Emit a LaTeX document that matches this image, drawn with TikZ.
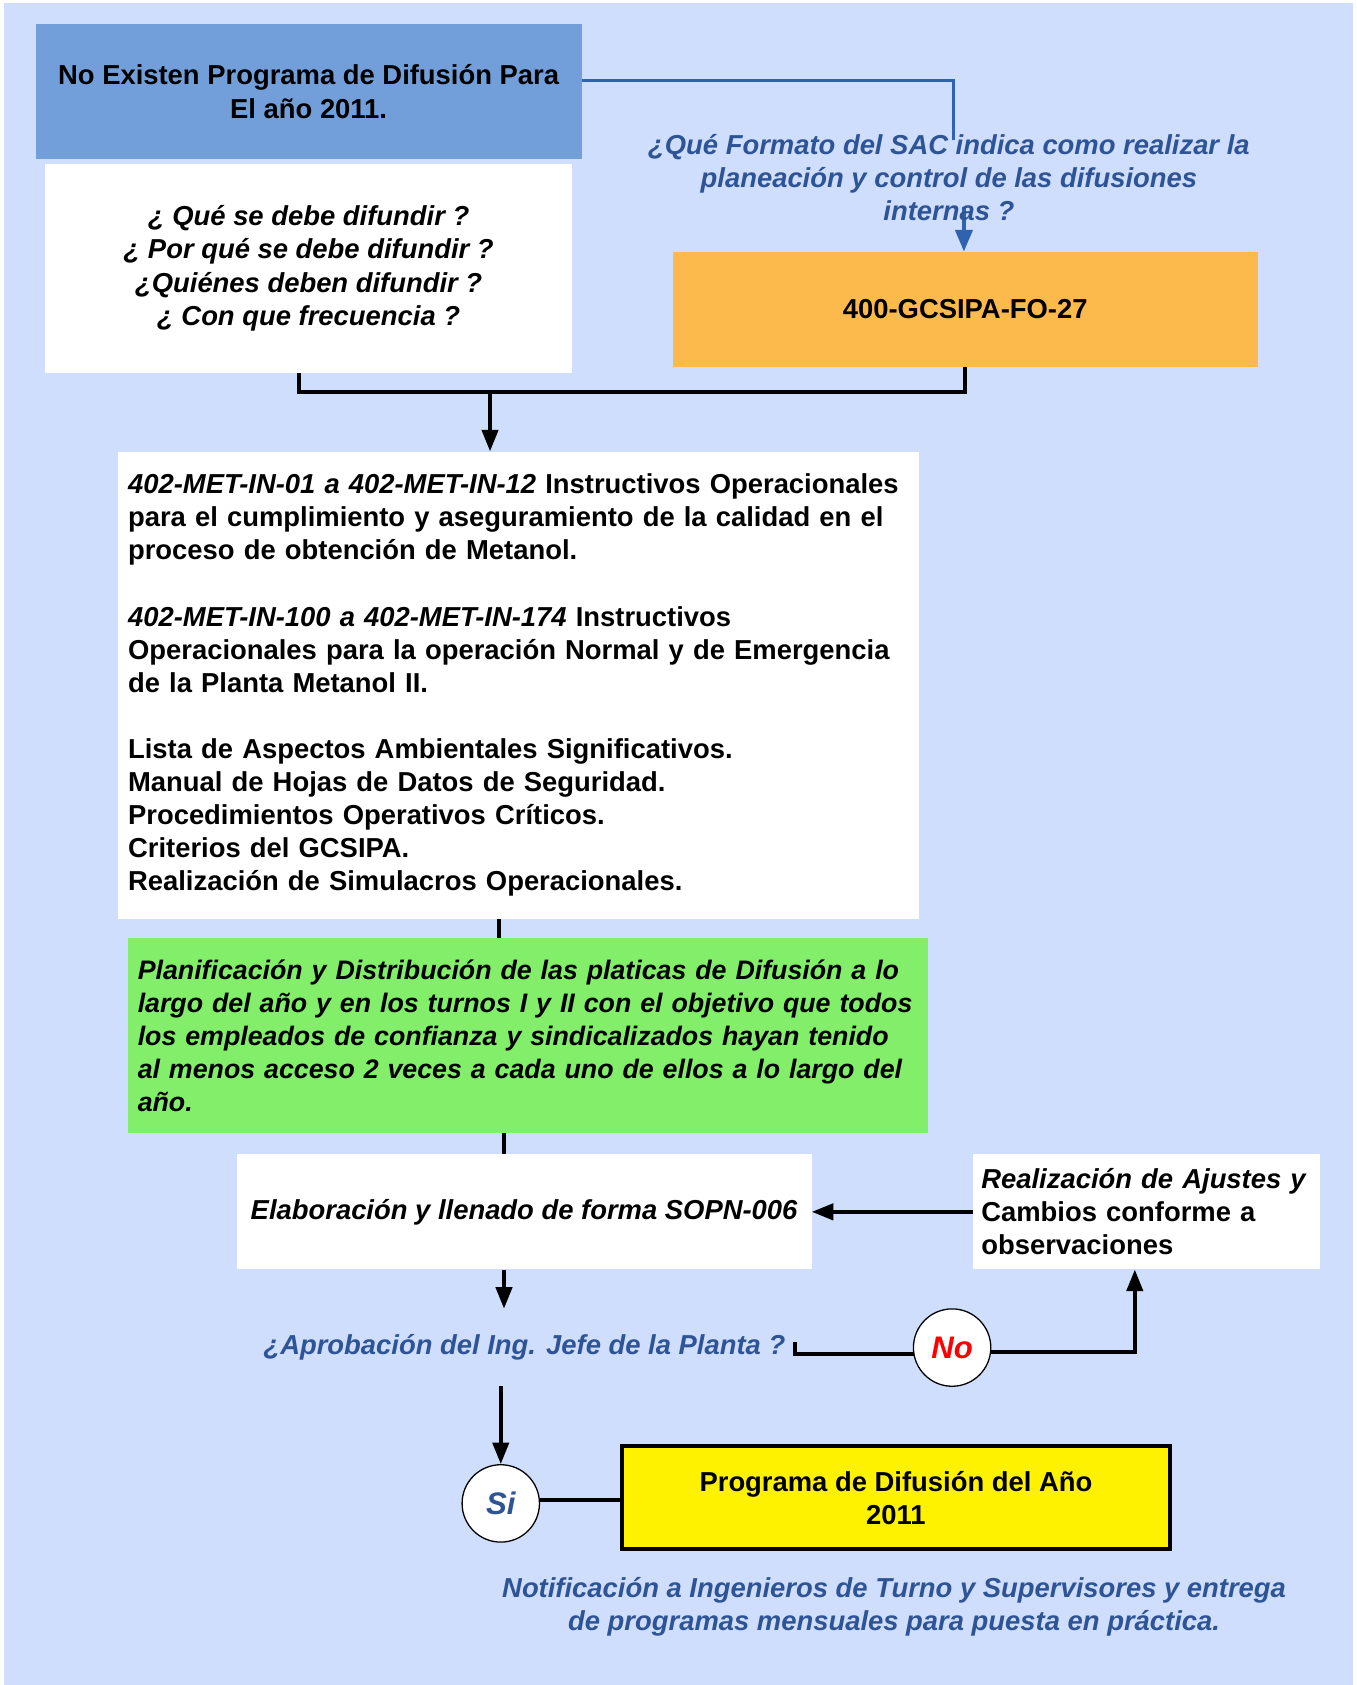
\documentclass[tikz,border=0pt]{standalone}
\usepackage{fontspec}
\setmainfont{Liberation Sans}
\usetikzlibrary{arrows.meta}
\definecolor{bg}{RGB}{207,222,252}
\definecolor{titleblue}{RGB}{114,159,218}
\definecolor{orangebox}{RGB}{252,186,76}
\definecolor{greenbox}{RGB}{130,238,106}
\definecolor{qblue}{RGB}{46,84,150}
\definecolor{lineblue}{RGB}{47,99,176}
\pgfdeclarelayer{bgl}
\pgfdeclarelayer{lines}
\pgfsetlayers{bgl,lines,main}
\begin{document}
\begin{tikzpicture}[x=1pt,y=-1pt,
  txt/.style={font=\fontsize{25.5}{30.8}\selectfont\bfseries},
  itxt/.style={font=\fontsize{25.5}{30.8}\selectfont\bfseries\itshape},
  gtxt/.style={font=\fontsize{24.9}{30.8}\selectfont\bfseries\itshape},
  box/.style={rectangle, inner sep=0pt, anchor=north west, align=center},
  lbox/.style={rectangle, inner ysep=0pt, anchor=north west, align=left},
  conn/.style={line width=3.5pt, black},
  arr/.style={conn, -{Triangle[length=20pt,width=15pt]}},
  bluecon/.style={line width=3pt, lineblue},
  circ/.style={circle, draw=black, line width=1.2pt, fill=white, minimum size=72pt, inner sep=0pt, font=\fontsize{29}{32}\selectfont\bfseries\itshape},
]
\useasboundingbox (0,0) rectangle (1262,1568);
\begin{pgfonlayer}{bgl}
\fill[white] (0,0) rectangle (1262,1568);
\fill[bg] (4,3) rectangle (1259,1568);
\end{pgfonlayer}

% boxes
\node[box, txt, fill=titleblue, minimum width=508pt, minimum height=126pt] (title) at (33,22)
  {No Existen Programa de Difusión Para\\El año 2011.};
\node[box, itxt, fill=white, minimum width=490pt, minimum height=195pt] (preg) at (42,152)
  {¿ Qué se debe difundir ?\\¿ Por qué se debe difundir ?\\¿Quiénes deben difundir ?\\¿ Con que frecuencia ?};
\node[itxt, text=qblue, align=center, inner sep=0pt] (qsac) at (883,165)
  {¿Qué Formato del SAC indica como realizar la\\planeación y control de las difusiones\\internas ?};
\node[box, txt, fill=orangebox, minimum width=544pt, minimum height=107pt] (fo) at (626,234)
  {400-GCSIPA-FO-27};
\node[lbox, txt, fill=white, minimum width=745pt, minimum height=435pt, inner xsep=9pt, text width=727pt] (big) at (110,420)
  {\mbox{{\itshape 402-MET-IN-01 a 402-MET-IN-12} Instructivos Operacionales}\\
   \mbox{para el cumplimiento y aseguramiento de la calidad en el}\\
   \mbox{proceso de obtención de Metanol.}\\[30.8pt]
   \mbox{{\itshape 402-MET-IN-100 a 402-MET-IN-174} Instructivos}\\
   \mbox{Operacionales para la operación Normal y de Emergencia}\\
   \mbox{de la Planta Metanol II.}\\[30.8pt]
   \mbox{Lista de Aspectos Ambientales Significativos.}\\
   \mbox{Manual de Hojas de Datos de Seguridad.}\\
   \mbox{Procedimientos Operativos Críticos.}\\
   \mbox{Criterios del GCSIPA.}\\
   \mbox{Realización de Simulacros Operacionales.}};
\node[lbox, gtxt, fill=greenbox, minimum width=744pt, minimum height=181pt, inner xsep=9pt, text width=726pt] (green) at (119,873)
  {\mbox{Planificación y Distribución de las platicas de Difusión a lo}\\
   \mbox{largo del año y en los turnos I y II con el objetivo que todos}\\
   \mbox{los empleados de confianza y sindicalizados hayan tenido}\\
   \mbox{al menos acceso 2 veces a cada uno de ellos a lo largo del}\\
   \mbox{año.}};
\node[box, itxt, fill=white, minimum width=535pt, minimum height=107pt] (elab) at (220,1074)
  {Elaboración y llenado de forma SOPN-006};
\node[lbox, txt, fill=white, minimum width=323pt, minimum height=107pt, inner xsep=8pt, text width=307pt] (ajust) at (905,1074)
  {\mbox{\itshape Realización de Ajustes y}\\\mbox{Cambios conforme a}\\\mbox{observaciones}};
\node[itxt, text=qblue, inner sep=0pt, minimum height=72pt] (qa) at (488,1254)
  {¿Aprobación del Ing. Jefe de la Planta ?};
\node[circ, text=red] (no) at (886,1254) {No};
\node[circ, text=qblue] (si) at (466,1399) {Si};
\node[box, txt, fill=yellow, draw=black, line width=3.5pt, minimum width=510pt, minimum height=96pt] (yel) at (577,1344)
  {Programa de Difusión del Año\\2011};
\node[itxt, text=qblue, align=center, inner sep=0pt] (notif) at (832,1495)
  {Notificación a Ingenieros de Turno y Supervisores y entrega\\de programas mensuales para puesta en práctica.};

% helper coordinates
\coordinate (c1) at (887,75);
\coordinate (c2) at (887,130);
\coordinate (c3) at (897,193);
\coordinate (j0) at (278,365);
\coordinate (j) at (456,365);
\coordinate (xa) at (464,0);
\coordinate (xb) at (469,0);
\coordinate (xc) at (466,0);
\coordinate (st) at (740,1249);
\coordinate (up) at (1056,0);

\begin{pgfonlayer}{lines}
\draw[bluecon] (title.east |- c1) -- (c1) -- (c2);
\draw[bluecon, -{Triangle[length=20pt,width=16pt]}] (c3) -- (c3 |- fo.north);
\draw[conn, line join=miter] (preg.south -| j0) -- (j0) -| (fo.south);
\draw[arr] (j) -- (big.north -| j);
\draw[conn] (big.south -| xa) -- (green.north -| xa);
\draw[conn] (green.south -| xb) -- (elab.north -| xb);
\draw[arr] (elab.south -| xb) -- (qa.north -| xb);
\draw[arr] (ajust.west) -- (elab.east);
\draw[conn, line join=miter] (st) |- ([yshift=-6pt]no.center);
\draw[arr, line join=miter] ([yshift=-4pt]no.center) -| (ajust.south -| up);
\draw[arr] (qa.south -| xc) -- (si.north);
\draw[conn] ([yshift=3pt]si.center) -- ([yshift=3pt]si.center -| yel.west);
\end{pgfonlayer}
\end{tikzpicture}
\end{document}
